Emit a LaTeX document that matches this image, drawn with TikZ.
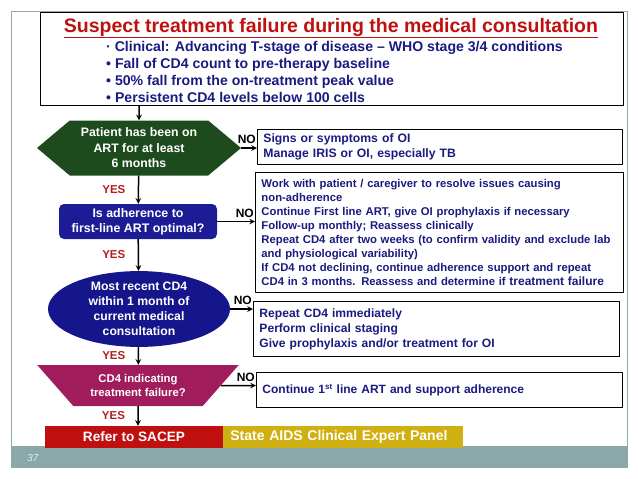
\documentclass[tikz,border=0pt]{standalone}
\usepackage{fontspec}
\setmainfont{Liberation Sans}
\usetikzlibrary{shapes.geometric,shapes.symbols,positioning}
\definecolor{hexgreen}{HTML}{1E4B1E}
\definecolor{boxnavy}{HTML}{1C1C96}
\definecolor{ovalnavy}{HTML}{16168C}
\definecolor{trapred}{HTML}{A01C5C}
\definecolor{barred}{HTML}{C00F0F}
\definecolor{baryellow}{HTML}{D0B010}
\definecolor{textnavy}{HTML}{1A1A80}
\definecolor{yesred}{HTML}{B01E1E}
\definecolor{titlered}{HTML}{BF1010}
\definecolor{slidegray}{HTML}{8FAAAE}
\definecolor{bandteal}{HTML}{8AA8A8}
\newcommand{\fsz}[2]{\fontsize{#1}{#2}\selectfont}
\tikzset{
  shapetext/.style={text=white, align=center, inner sep=0pt},
  notebox/.style={draw, line width=0.9pt, anchor=north west, align=left, inner xsep=6pt, text=textnavy},
  yes/.style={midway, left, text=yesred, xshift=-9pt, font=\bfseries\fsz{11.5}{11.5}},
  no/.style={pos=1, anchor=south east, inner sep=0.5pt, yshift=3pt, font=\bfseries\fsz{12}{12}},
}
\begin{document}
\begin{tikzpicture}[x=1pt, y=-1pt, >=stealth, font=\bfseries\fsz{11}{14}, line join=round]
\useasboundingbox (0,0) rectangle (638,479);
% slide frame
\fill[bandteal] (11,446) rectangle (627,467);
\draw[slidegray, line width=1pt] (11,11) rectangle (627,467);
\node[text=white!85!gray, font=\mdseries\itshape\fsz{10}{10}] (pg) at (33,458) {37};

% criteria
\node[draw, line width=1.1pt, minimum width=583, minimum height=93, anchor=north west] (susp) at (40,12) {};
\node[text=titlered, font=\bfseries\fsz{19.5}{19.5}, anchor=base] (ttl) at (331,32) {\underline{Suspect treatment failure during the medical consultation}};
\node[text=textnavy, font=\bfseries\fsz{14.1}{17}, align=left, anchor=north west, inner sep=0] (crit) at (106,41)
  {· Clinical: Advancing T-stage of disease – WHO stage 3/4 conditions\\
   • Fall of CD4 count to pre-therapy baseline\\
   • 50\% fall from the on-treatment peak value\\
   • Persistent CD4 levels below 100 cells};

% decision shapes
\node[signal, signal to=west and east, signal pointer angle=80, fill=hexgreen, minimum width=204, minimum height=55, shapetext, font=\bfseries\fsz{12.3}{15.5}] (art) at (139,148) {Patient has been on\\ART for at least\\6 months};
\node[rectangle, rounded corners=5pt, fill=boxnavy, minimum width=158, minimum height=35, shapetext, font=\bfseries\fsz{12.4}{15}] (adh) at (138,221.5) {Is adherence to\\first-line ART optimal?};
\node[ellipse, fill=ovalnavy, minimum width=182, minimum height=74, shapetext, font=\bfseries\fsz{12.2}{15}] (cd4) at (139,309) {Most recent CD4\\within 1 month of\\current medical\\consultation};
\node[trapezium, trapezium angle=40, shape border rotate=180, trapezium stretches, fill=trapred, minimum width=202, minimum height=41, shapetext, font=\bfseries\fsz{11.3}{14}] (tf) at (138,385.5) {CD4 indicating\\treatment failure?};

% referral bar
\node[fill=barred, text=white, minimum width=178, minimum height=22, inner sep=0, font=\bfseries\fsz{13.6}{14}] (sacep) at (134,437) {Refer to SACEP};
\node[fill=baryellow, text=white, minimum height=22, inner xsep=7pt, inner ysep=0, text width=226, align=left, font=\bfseries\fsz{14}{14}, right=0pt of sacep] (panel) {State AIDS Clinical Expert Panel};

% notes
\node[notebox, minimum height=35, text width=353, font=\bfseries\fsz{12.2}{15}] (oi) at (257,129)
  {Signs or symptoms of OI\\Manage IRIS or OI, especially TB};
\node[notebox, minimum height=120, text width=356, font=\bfseries\fsz{11.3}{14}] (adv) at (255,172)
  {Work with patient / caregiver to resolve issues causing\\
   non-adherence\\
   Continue First line ART, give OI prophylaxis if necessary\\
   Follow-up monthly; Reassess clinically\\
   Repeat CD4 after two weeks (to confirm validity and exclude lab\\
   and physiological variability)\\
   If CD4 not declining, continue adherence support and repeat\\
   CD4 in 3 months. Reassess and determine if {\fsz{12}{14}treatment failure}};
\node[notebox, minimum height=55, text width=354, font=\bfseries\fsz{12.1}{15}] (rep) at (253,301)
  {Repeat CD4 immediately\\Perform clinical staging\\Give prophylaxis and/or treatment for OI};
\node[notebox, minimum height=35, text width=354, font=\bfseries\fsz{12}{15}] (cont) at (256,372)
  {Continue 1\textsuperscript{st} line ART and support adherence};

% connectors
\begin{scope}[line width=1.5pt]
\draw[->] (susp.south -| art) -- (art);
\draw[->] (art) -- (adh) node[yes] {YES};
\draw[->] (adh) -- (cd4) node[yes] {YES};
\draw[->] (cd4) -- (tf) node[yes] {YES};
\draw[->] (tf) -- (tf |- sacep.north) node[yes] {YES};
\draw[->] (art) -- (art -| oi.west) node[no] {NO};
\draw[->] (adh) -- (adh -| adv.west) node[no] {NO};
\draw[->] (cd4) -- (cd4 -| rep.west) node[no] {NO};
\draw[->] (tf) -- (tf -| cont.west) node[no] {NO};
\end{scope}
\end{tikzpicture}
\end{document}
